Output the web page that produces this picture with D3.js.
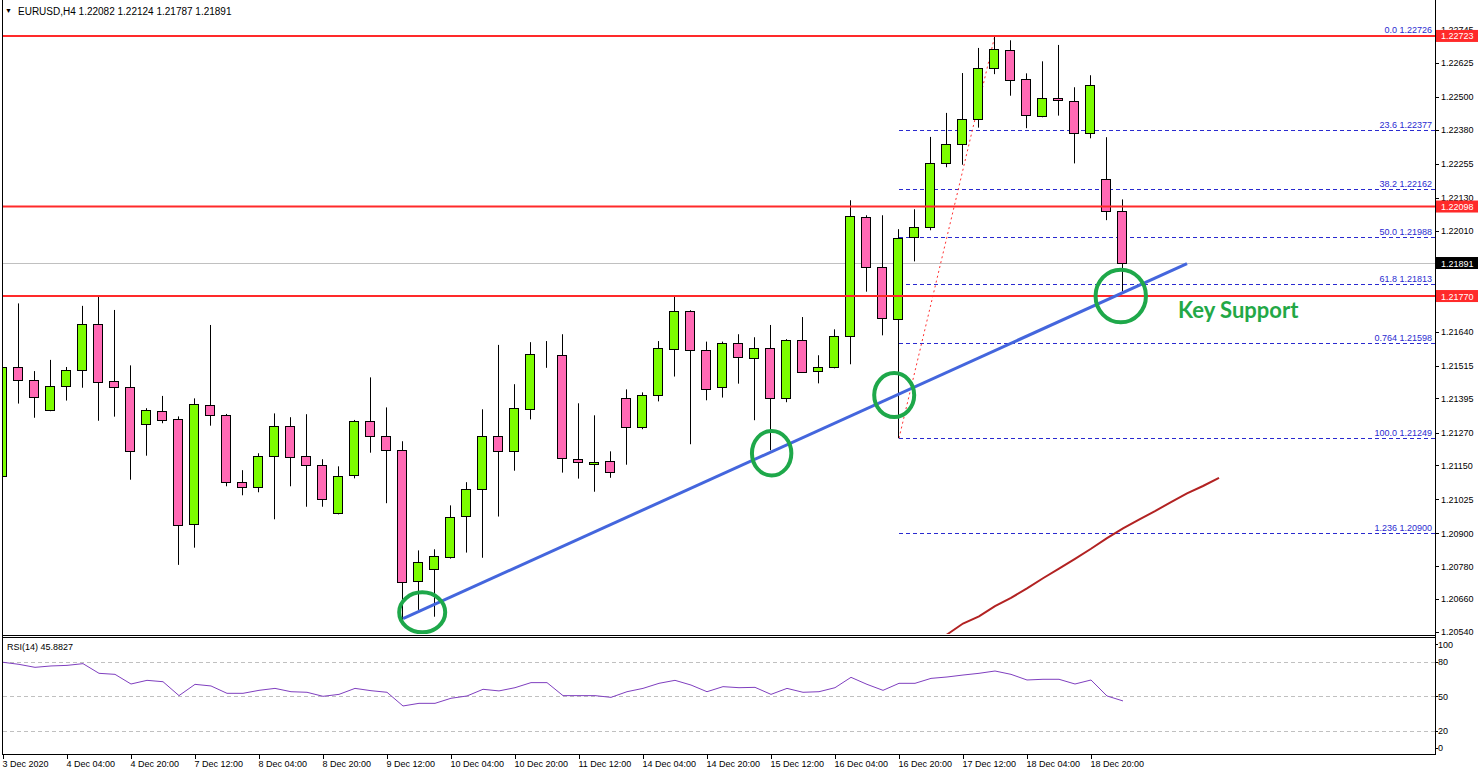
<!DOCTYPE html>
<html><head><meta charset="utf-8">
<script src="https://cdn.jsdelivr.net/npm/d3@7"></script>
<style>
body{margin:0;background:#fff;}
svg{display:block;font-family:"Liberation Sans",Arial,sans-serif;}
</style>
</head><body><svg id="c" width="1480" height="775"></svg>
<script>
// ---------------- DATA ----------------
const symbol = "EURUSD,H4";
const headerOHLC = ["1.22082","1.22124","1.21787","1.21891"];
const timeLabels = ["3 Dec 2020","4 Dec 04:00","4 Dec 20:00","7 Dec 12:00","8 Dec 04:00","8 Dec 20:00","9 Dec 12:00","10 Dec 04:00","10 Dec 20:00","11 Dec 12:00","14 Dec 04:00","14 Dec 20:00","15 Dec 12:00","16 Dec 04:00","16 Dec 20:00","17 Dec 12:00","18 Dec 04:00","18 Dec 20:00"];
const timeLabelBars = [0,4,8,12,16,20,24,28,32,36,40,44,48,52,56,60,64,68];

const opens  = [1.21111,1.21509,1.21461,1.21351,1.21439,1.21498,1.21667,1.21458,1.21436,1.21300,1.21348,1.21318,1.20934,1.21370,1.21333,1.21088,1.21069,1.21183,1.21293,1.21183,1.21150,1.20974,1.21113,1.21311,1.21256,1.21205,1.20725,1.20769,1.20815,1.20963,1.21062,1.21256,1.21201,1.21355,1.21554,1.21553,1.21172,1.21156,1.21165,1.21395,1.21289,1.21406,1.21575,1.21714,1.21571,1.21436,1.21597,1.21542,1.21579,1.21395,1.21608,1.21494,1.21509,1.21623,1.22059,1.21875,1.21685,1.21985,1.22022,1.22256,1.22326,1.22418,1.22604,1.22670,1.22564,1.22429,1.22495,1.22484,1.22366,1.22198,1.22082];
const highs  = [1.21612,1.21743,1.21495,1.21536,1.21510,1.21734,1.21768,1.21719,1.21516,1.21359,1.21404,1.21329,1.21395,1.21664,1.21338,1.21132,1.21194,1.21340,1.21326,1.21337,1.21172,1.21146,1.21316,1.21472,1.21362,1.21238,1.20838,1.20842,1.21003,1.21088,1.21355,1.21591,1.21447,1.21601,1.21605,1.21630,1.21377,1.21333,1.21201,1.21428,1.21417,1.21605,1.21768,1.21718,1.21603,1.21603,1.21630,1.21619,1.21664,1.21612,1.21693,1.21553,1.21648,1.22121,1.22066,1.22066,1.22015,1.22088,1.22353,1.22441,1.22587,1.22679,1.22726,1.22707,1.22586,1.22630,1.22690,1.22535,1.22579,1.22352,1.22124];
const lows   = [1.21039,1.21376,1.21324,1.21348,1.21387,1.21434,1.21313,1.21328,1.21097,1.21185,1.21304,1.20785,1.20848,1.21295,1.21073,1.21040,1.21051,1.20952,1.21073,1.20998,1.20998,1.20970,1.21102,1.21196,1.21011,1.20583,1.20620,1.20595,1.20808,1.20830,1.20811,1.20962,1.21130,1.21318,1.21507,1.21123,1.21101,1.21053,1.21104,1.21152,1.21282,1.21384,1.21475,1.21227,1.21388,1.21398,1.21449,1.21315,1.21205,1.21381,1.21488,1.21450,1.21505,1.21520,1.21786,1.21626,1.21249,1.21897,1.22011,1.22242,1.22251,1.22387,1.22583,1.22504,1.22385,1.22425,1.22431,1.22256,1.22348,1.22048,1.21787];
const closes = [1.21509,1.21461,1.21399,1.21439,1.21498,1.21667,1.21454,1.21436,1.21201,1.21351,1.21315,1.20930,1.21373,1.21333,1.21088,1.21069,1.21183,1.21293,1.21179,1.21150,1.21025,1.21110,1.21311,1.21256,1.21205,1.20721,1.20794,1.20816,1.20959,1.21062,1.21256,1.21201,1.21359,1.21557,1.21554,1.21176,1.21161,1.21163,1.21124,1.21289,1.21406,1.21579,1.21714,1.21571,1.21428,1.21597,1.21546,1.21579,1.21395,1.21608,1.21491,1.21509,1.21623,1.22062,1.21875,1.21688,1.21982,1.22022,1.22256,1.22326,1.22418,1.22604,1.22674,1.22561,1.22432,1.22495,1.22487,1.22366,1.22542,1.22081,1.21891];

const priceTicks = [1.22745,1.22625,1.22500,1.22380,1.22255,1.22130,1.22010,1.21640,1.21515,1.21395,1.21270,1.21150,1.21025,1.20900,1.20780,1.20660,1.20540];
const resistanceLevels = [1.22723,1.22098,1.21770];
const lastPrice = 1.21891;

const fibNames  = ["0.0","23.6","38.2","50.0","61.8","0.764","100.0","1.236"];
const fibPrices = [1.22726,1.22377,1.22162,1.21988,1.21813,1.21598,1.21249,1.20900];
const fibAnchorBars = [56,62];
const fibAnchorPrices = [1.21249,1.22726];

const maBars   = [58,59,60,61,62,63,64,65,66,67,68,69,70,71,72,73,74,75,76];
const maValues = [1.20491,1.20530,1.20570,1.20596,1.20634,1.20664,1.20699,1.20736,1.20771,1.20807,1.20844,1.20883,1.20919,1.20951,1.20982,1.21015,1.21047,1.21074,1.21104];

const trendBars = [25,74];
const trendPrices = [1.20588,1.21889];

const circleBars   = [26.2,48.04,55.7,69.86];
const circlePrices = [1.20611,1.21194,1.21407,1.21770];
const annotationText = "Key Support";

const rsiName = "RSI(14) 45.8827";
const rsiValues = [79.5,77.7,75.1,76.3,76.8,78.3,69.9,69.0,60.6,63.8,62.6,50.5,60.3,58.9,52.5,52.5,55.1,56.8,53.9,53.4,49.9,51.6,56.8,54.8,53.4,41.5,43.8,43.8,48.2,50.2,56.0,54.6,57.4,61.8,61.8,50.5,50.5,50.5,49.0,53.9,56.8,61.2,63.8,59.7,53.9,58.3,57.4,57.7,51.6,56.8,53.4,53.9,57.4,66.4,60.3,55.1,61.2,61.2,65.5,66.7,68.4,69.9,71.9,69.0,64.1,64.7,64.7,60.6,64.1,50.2,45.88];
const rsiLevels = [80,50,20];
const rsiTickLabels = [100,80,50,20,0];

// ---------------- LAYOUT ----------------
const svg = d3.select("#c");
const L = 2, R = 1435, mainTop = 0, mainBot = 634, rsiTop = 637, rsiBot = 754;
const x = d3.scaleLinear().domain([0,70]).range([3,1123]);
const y = d3.scaleLinear().domain([1.205317,1.228547]).range([mainBot,0]);
const yr = d3.scaleLinear().domain([0,100]).range([753.7,638.7]);
const fmt = d3.format(".5f");

const candles = opens.map((o,i)=>({i,o,h:highs[i],l:lows[i],c:closes[i]}));

svg.append("defs").append("clipPath").attr("id","mclip")
  .append("rect").attr("x",L).attr("y",mainTop).attr("width",R-L).attr("height",mainBot-mainTop);

const main = svg.append("g").attr("clip-path","url(#mclip)");

// current price line
main.append("line").attr("x1",L).attr("x2",R).attr("y1",Math.round(y(lastPrice))+0.5).attr("y2",Math.round(y(lastPrice))+0.5)
  .attr("stroke","#c0c0c0").attr("stroke-width",1);

// fib lines
const fibColor = "#2a2ad0";
main.selectAll(".fib").data(fibPrices).join("line")
  .attr("x1",x(fibAnchorBars[0])).attr("x2",R)
  .attr("y1",d=>Math.round(y(d))+0.5).attr("y2",d=>Math.round(y(d))+0.5)
  .attr("stroke",fibColor).attr("stroke-width",1).attr("stroke-dasharray","4,3");
main.selectAll(".fibt").data(fibPrices).join("text")
  .attr("x",1432).attr("y",d=>Math.round(y(d))-2).attr("text-anchor","end")
  .attr("font-size",9).attr("fill",fibColor)
  .text((d,i)=>fibNames[i]+" "+fmt(d));

// fib diagonal
main.append("line")
  .attr("x1",x(fibAnchorBars[0])).attr("y1",y(fibAnchorPrices[0]))
  .attr("x2",x(fibAnchorBars[1])).attr("y2",y(fibAnchorPrices[1]))
  .attr("stroke","#ff3030").attr("stroke-width",1).attr("stroke-dasharray","2,3");

// MA line
main.append("path").datum(maBars.map((b,i)=>[b,maValues[i]]))
  .attr("d",d3.line().x(d=>x(d[0])).y(d=>y(d[1])))
  .attr("fill","none").attr("stroke","#b22222").attr("stroke-width",2);

// candles
const cg = main.append("g");
cg.selectAll(".wick").data(candles).join("line")
  .attr("x1",d=>Math.round(x(d.i))-0.5).attr("x2",d=>Math.round(x(d.i))-0.5)
  .attr("y1",d=>y(d.h)).attr("y2",d=>y(d.l))
  .attr("stroke","#000").attr("stroke-width",1);
cg.selectAll(".body").data(candles).join("rect")
  .attr("x",d=>Math.round(x(d.i))-5.5).attr("width",9)
  .attr("y",d=>Math.round(y(Math.max(d.o,d.c)))+0.5)
  .attr("height",d=>Math.max(0,Math.round(y(Math.min(d.o,d.c)))-Math.round(y(Math.max(d.o,d.c)))))
  .attr("fill",d=>d.c>d.o?"#7cfc00":(d.c<d.o?"#ff69b4":"#000"))
  .attr("stroke","#000").attr("stroke-width",1);

// horizontal levels (over candles)
main.selectAll(".lvl").data(resistanceLevels).join("line")
  .attr("x1",L).attr("x2",R).attr("y1",d=>y(d)).attr("y2",d=>y(d))
  .attr("stroke","#ff2a2a").attr("stroke-width",2);

// trend line
main.append("line")
  .attr("x1",x(trendBars[0])).attr("y1",y(trendPrices[0]))
  .attr("x2",x(trendBars[1])).attr("y2",y(trendPrices[1]))
  .attr("stroke","#4466dd").attr("stroke-width",3);

// circles
const circleRx = [23,19.7,20,25.2], circleRy=[20,22.3,22,26.3];
main.selectAll(".circ").data(circleBars).join("ellipse")
  .attr("cx",(d)=>x(d)).attr("cy",(d,i)=>y(circlePrices[i]))
  .attr("rx",(d,i)=>circleRx[i]).attr("ry",(d,i)=>circleRy[i])
  .attr("fill","none").attr("stroke","#1ea84a").attr("stroke-width",4);

svg.append("text").attr("x",1178).attr("y",318).attr("font-family","Lato, 'Open Sans', sans-serif")
  .attr("font-weight","bold").attr("font-size",22).attr("fill","#23a846").text(annotationText);

// header
svg.append("text").attr("x",5).attr("y",13).attr("font-size",7).attr("fill","#000").text("▼");
svg.append("text").attr("x",18).attr("y",14.5).attr("font-size",10).attr("fill","#000")
  .text(symbol+"  "+headerOHLC.join(" "));

// frames
svg.append("line").attr("x1",L+0.5).attr("x2",L+0.5).attr("y1",0).attr("y2",rsiBot).attr("stroke","#000");
svg.append("line").attr("x1",R+0.5).attr("x2",R+0.5).attr("y1",0).attr("y2",rsiBot).attr("stroke","#000");
svg.append("line").attr("x1",L).attr("x2",R+1).attr("y1",mainBot+1.5).attr("y2",mainBot+1.5).attr("stroke","#000");
svg.append("line").attr("x1",L).attr("x2",R+1).attr("y1",rsiTop+0.5).attr("y2",rsiTop+0.5).attr("stroke","#000");
svg.append("line").attr("x1",L).attr("x2",R+1).attr("y1",rsiBot+0.5).attr("y2",rsiBot+0.5).attr("stroke","#000");

// price axis
const pa = svg.append("g");
pa.selectAll(".pt").data(priceTicks).join("line")
  .attr("x1",R).attr("x2",R+4).attr("y1",d=>Math.round(y(d))+0.5).attr("y2",d=>Math.round(y(d))+0.5).attr("stroke","#000");
pa.selectAll(".ptl").data(priceTicks).join("text")
  .attr("x",1441).attr("y",d=>y(d)+3.5).attr("font-size",9).attr("fill","#000").text(d=>fmt(d));

// price boxes
const boxes = resistanceLevels.map(v=>({v,fill:"#ff2a2a"})).concat([{v:lastPrice,fill:"#000"}]);
pa.selectAll(".pb").data(boxes).join("rect")
  .attr("x",R+1).attr("y",d=>y(d.v)-6).attr("width",42).attr("height",12).attr("fill",d=>d.fill);
pa.selectAll(".pbt").data(boxes).join("text")
  .attr("x",1441).attr("y",d=>y(d.v)+3.5).attr("font-size",9).attr("fill","#fff").text(d=>fmt(d.v));

// RSI panel
const rg = svg.append("g");
rg.selectAll(".rl").data(rsiLevels).join("line")
  .attr("x1",L+1).attr("x2",R).attr("y1",d=>Math.round(yr(d))+0.5).attr("y2",d=>Math.round(yr(d))+0.5)
  .attr("stroke","#c0c0c0").attr("stroke-dasharray","4,3");
rg.append("path").datum(rsiValues)
  .attr("d",d3.line().x((d,i)=>x(i)).y(d=>yr(d)))
  .attr("fill","none").attr("stroke","#7f3fbf").attr("stroke-width",1);
rg.append("text").attr("x",7).attr("y",650).attr("font-size",9).attr("fill","#000").text(rsiName);
rg.selectAll(".rtk").data(rsiTickLabels).join("line")
  .attr("x1",R).attr("x2",R+3)
  .attr("y1",d=>Math.round(yr(d)+(d===100?5.6:d===0?-6:0))+0.5)
  .attr("y2",d=>Math.round(yr(d)+(d===100?5.6:d===0?-6:0))+0.5).attr("stroke","#000");
rg.selectAll(".rtl").data(rsiTickLabels).join("text")
  .attr("x",1438).attr("y",d=>yr(d)+(d===100?5.6:d===0?-6:0)+3.5).attr("font-size",9).attr("fill","#000").text(d=>d);

// time axis
const ta = svg.append("g");
ta.selectAll(".tt").data(timeLabelBars).join("line")
  .attr("x1",d=>Math.round(x(d))+0.5).attr("x2",d=>Math.round(x(d))+0.5)
  .attr("y1",rsiBot).attr("y2",rsiBot+5).attr("stroke","#000");
ta.selectAll(".ttl").data(timeLabelBars).join("text")
  .attr("x",d=>Math.round(x(d))-0.5).attr("y",767).attr("font-size",9).attr("fill","#000")
  .text((d,i)=>timeLabels[i]);
</script>
</body></html>
